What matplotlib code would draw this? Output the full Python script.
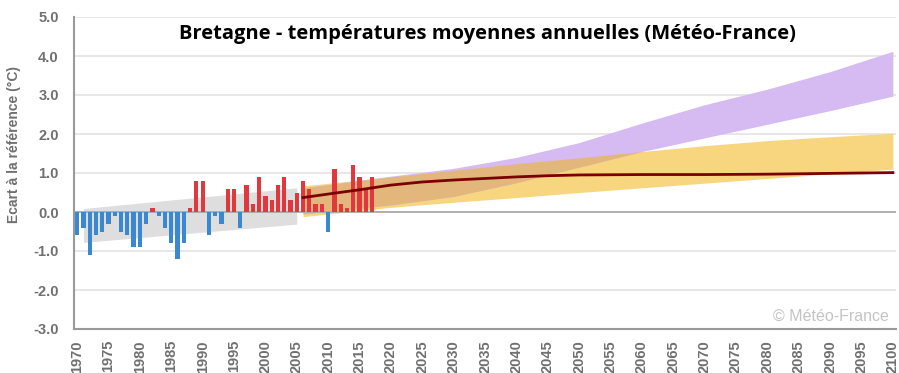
import matplotlib
matplotlib.use("Agg")
import matplotlib.pyplot as plt
import numpy as np

# observed annual anomalies (°C), 1970-2017
years = np.arange(1970, 2018)
anomaly = [-0.6, -0.4, -1.1, -0.6, -0.5, -0.3, -0.1, -0.5, -0.6, -0.9,
           -0.9, -0.3, 0.1, -0.1, -0.4, -0.8, -1.2, -0.8, 0.1, 0.8,
           0.8, -0.6, -0.1, -0.3, 0.6, 0.6, -0.4, 0.7, 0.2, 0.9,
           0.4, 0.3, 0.7, 0.9, 0.3, 0.5, 0.8, 0.6, 0.2, 0.2,
           -0.5, 1.1, 0.2, 0.1, 1.2, 0.9, 0.6, 0.9]

# trend envelope over the observed period
hist_years = [1971, 2005]
hist_low = [-0.78, -0.31]
hist_high = [0.09, 0.62]

# projected envelopes
proj_years = [2006, 2020, 2030, 2040, 2050, 2060, 2070, 2080, 2090, 2100]
rcp45_low = [-0.12, 0.12, 0.25, 0.37, 0.50, 0.62, 0.74, 0.86, 0.98, 1.10]
rcp45_high = [0.67, 0.90, 1.07, 1.24, 1.39, 1.55, 1.70, 1.83, 1.93, 2.02]
rcp85_low = [-0.05, 0.18, 0.40, 0.75, 1.15, 1.55, 1.90, 2.25, 2.60, 2.97]
rcp85_high = [0.62, 0.92, 1.12, 1.40, 1.78, 2.28, 2.75, 3.15, 3.60, 4.12]

# median projection
med_years = [2006, 2010, 2015, 2020, 2025, 2030, 2035, 2040, 2045, 2050,
             2060, 2070, 2080, 2090, 2100]
med_values = [0.37, 0.46, 0.57, 0.69, 0.77, 0.82, 0.86, 0.90, 0.93, 0.95,
              0.96, 0.96, 0.97, 0.99, 1.01]

yticks = np.arange(-3, 6)
xticks = np.arange(1970, 2101, 5)

fig = plt.figure(figsize=(8.99, 3.73), dpi=100)
ax = fig.add_axes([74 / 899, 44 / 373, 822 / 899, 312 / 373])

grey = "#707070"

for y in yticks:
    if y != 0:
        ax.axhline(y, color="#e3e3e3", lw=1.2, zorder=0)

ax.fill_between(hist_years, hist_low, hist_high, color="#dedede", lw=0, zorder=1)

p45_lo = np.array(rcp45_low)
p45_hi = np.array(rcp45_high)
p85_lo = np.array(rcp85_low)
p85_hi = np.array(rcp85_high)
ax.fill_between(proj_years, p45_lo, p45_hi, color="#f8d67f", lw=0, zorder=1)
ax.fill_between(proj_years, p85_lo, p85_hi, color="#d6bbf2", lw=0, zorder=1)
# overlap of the two envelopes
ov_lo = np.maximum(p45_lo, p85_lo)
ov_hi = np.minimum(p45_hi, p85_hi)
ax.fill_between(proj_years, ov_lo, ov_hi, where=ov_hi > ov_lo,
                interpolate=True, color="#e3b77c", lw=0, zorder=1)

ax.axhline(0, color="#a8a8a8", lw=1.3, zorder=2)

colors = ["#e1373d" if v > 0 else "#3a88d2" for v in anomaly]
ax.bar(years, anomaly, width=0.68, color=colors, zorder=3)

ax.plot(med_years, med_values, color="#7b0000", lw=2, zorder=4)

ax.set_xlim(1969.5, 2100.5)
ax.set_ylim(-3, 5)
ax.set_yticks(yticks)
ax.set_yticklabels(["%.1f" % v for v in yticks])
ax.set_xticks(xticks)
ax.set_xticklabels([str(v) for v in xticks], rotation=90)
ax.tick_params(axis="both", length=0, colors=grey, labelsize=10.5)
ax.tick_params(axis="y", pad=11)
ax.tick_params(axis="x", pad=8)
for lab in ax.get_xticklabels() + ax.get_yticklabels():
    lab.set_fontweight("bold")
    lab.set_family("Liberation Sans")

for side in ["top", "right"]:
    ax.spines[side].set_visible(False)
for side in ["left", "bottom"]:
    ax.spines[side].set_color("#9a9a9a")
    ax.spines[side].set_linewidth(1.5)

ax.set_ylabel("Ecart à la référence (°C)", color=grey, fontsize=10,
              fontweight="bold", family="Liberation Sans")
ax.yaxis.set_label_coords(-0.064, 0.59)

fig.text(487 / 899, 1 - 34 / 373, "Bretagne - températures moyennes annuelles (Météo-France)",
         ha="center", va="center", fontsize=14.5, fontweight="bold",
         family="Open Sans", color="black")

fig.text(889 / 899, 1 - 316 / 373, "© Météo-France", ha="right", va="center",
         fontsize=11.5, color="#c4c4c4", family="Liberation Sans")

fig.savefig("out.png", dpi=100)
